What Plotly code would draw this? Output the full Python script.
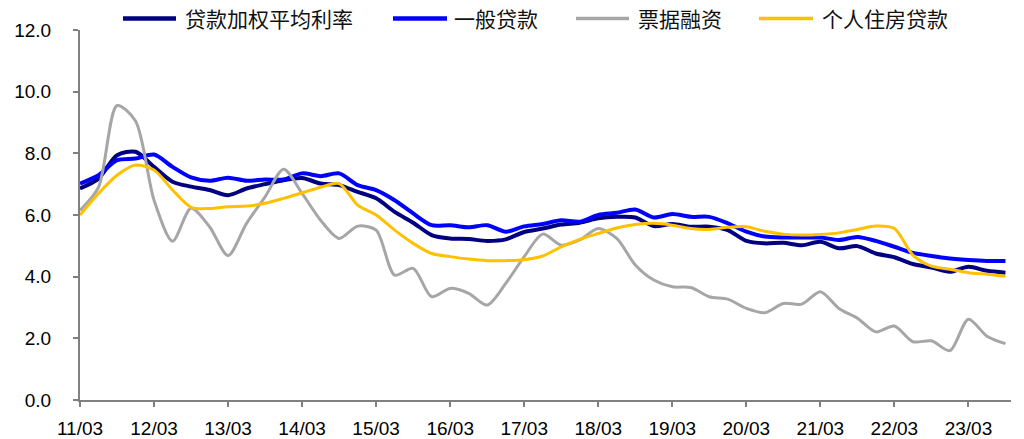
import plotly.graph_objects as go

# Quarter labels 2011/03 .. 2023/09
quarters = [f"{y:02d}/{m:02d}" for y in range(11, 24) for m in (3, 6, 9, 12)][:51]
year_ticks = [q for q in quarters if q.endswith("/03")]

names = ["贷款加权平均利率", "一般贷款", "票据融资", "个人住房贷款"]

weighted_avg = [6.86, 7.18, 7.94, 8.05, 7.56, 7.08, 6.92, 6.81, 6.64, 6.86,
                7.00, 7.13, 7.20, 7.02, 6.97, 6.75, 6.54, 6.10, 5.75, 5.35,
                5.24, 5.22, 5.16, 5.21, 5.45, 5.56, 5.69, 5.75, 5.89, 5.94,
                5.92, 5.64, 5.71, 5.62, 5.62, 5.51, 5.16, 5.08, 5.10, 5.02,
                5.13, 4.92, 4.99, 4.75, 4.63, 4.41, 4.30, 4.16, 4.32, 4.19,
                4.13]

general_loans = [7.02, 7.29, 7.78, 7.83, 7.96, 7.56, 7.22, 7.11, 7.21, 7.11,
                 7.15, 7.15, 7.35, 7.26, 7.35, 6.97, 6.81, 6.48, 6.05, 5.67,
                 5.67, 5.60, 5.67, 5.46, 5.63, 5.71, 5.83, 5.78, 6.00, 6.07,
                 6.18, 5.92, 6.03, 5.94, 5.94, 5.73, 5.46, 5.30, 5.27, 5.27,
                 5.27, 5.19, 5.29, 5.16, 4.97, 4.77, 4.67, 4.59, 4.54, 4.51,
                 4.51]

bill_financing = [6.15, 6.90, 9.55, 9.05, 6.48, 5.15, 6.22, 5.62, 4.68, 5.73,
                  6.59, 7.48, 6.70, 5.83, 5.24, 5.64, 5.51, 4.05, 4.27, 3.35,
                  3.62, 3.46, 3.08, 3.78, 4.65, 5.38, 5.02, 5.19, 5.56, 5.24,
                  4.38, 3.89, 3.67, 3.65, 3.35, 3.27, 2.97, 2.83, 3.13, 3.11,
                  3.51, 2.97, 2.65, 2.21, 2.40, 1.89, 1.92, 1.60, 2.62, 2.07,
                  1.83]

mortgage = [6.00, 6.70, 7.29, 7.62, 7.46, 6.81, 6.25, 6.21, 6.27, 6.29,
            6.38, 6.54, 6.72, 6.90, 7.02, 6.32, 6.00, 5.51, 5.08, 4.75,
            4.65, 4.57, 4.52, 4.52, 4.55, 4.67, 4.97, 5.21, 5.40, 5.58,
            5.69, 5.73, 5.67, 5.56, 5.53, 5.60, 5.62, 5.47, 5.38, 5.35,
            5.37, 5.42, 5.53, 5.64, 5.56, 4.70, 4.34, 4.24, 4.13, 4.08,
            4.01]

series = [weighted_avg, general_loans, bill_financing, mortgage]
colors = ["#000080", "#0000FF", "#A6A6A6", "#FFC000"]
widths = [4, 4, 3, 3]

fig = go.Figure()
for name, vals, c, w in zip(names, series, colors, widths):
    fig.add_trace(go.Scatter(
        x=quarters, y=vals, name=name, mode="lines",
        line=dict(color=c, width=w, shape="spline", smoothing=0.8),
        showlegend=False,
    ))

# Manual legend (top row)
L, R, T, B = 80, 1011, 30, 400
pw, ph = R - L, B - T
def px(x):
    return (x - L) / pw
def py(y):
    return (B - y) / ph

legend_line_x = [(123, 176), (393, 447), (576, 629), (759, 813)]
legend_text_x = [183, 452, 636, 820]
for (x0, x1), tx, name, c, w in zip(legend_line_x, legend_text_x, names, colors, widths):
    fig.add_shape(type="line", xref="paper", yref="paper",
                  x0=px(x0), x1=px(x1), y0=py(18.5), y1=py(18.5),
                  line=dict(color=c, width=w + 0.5))
    fig.add_annotation(xref="paper", yref="paper", x=px(tx), y=py(18.5),
                       xanchor="left", yanchor="middle", showarrow=False,
                       text=name,
                       font=dict(family="Noto Sans CJK SC", size=21, color="#111111"))

axis_color = "#808080"
fig.update_layout(
    width=1024, height=439,
    margin=dict(l=L, r=1024 - R, t=T, b=439 - B, autoexpand=False),
    paper_bgcolor="white", plot_bgcolor="white",
    font=dict(family="Liberation Sans, Arial, sans-serif", size=19, color="#000000"),
    xaxis=dict(
        type="category", range=[0, 50.3],
        tickmode="array", tickvals=year_ticks, ticktext=year_ticks,
        showgrid=False, zeroline=False,
        showline=True, linecolor=axis_color, linewidth=2,
        ticks="outside", ticklen=5, tickwidth=2, tickcolor=axis_color,
        ticklabelstandoff=5,
    ),
    yaxis=dict(
        range=[0, 12], dtick=2, tick0=0, tickformat=".1f",
        showgrid=False, zeroline=False,
        showline=True, linecolor=axis_color, linewidth=2,
        ticks="outside", ticklen=5, tickwidth=2, tickcolor=axis_color,
        ticklabelstandoff=18,
    ),
)

fig.write_html("out.html",
               config={"displayModeBar": False},
               post_script="document.body.style.margin='0';document.body.style.overflow='hidden';")
